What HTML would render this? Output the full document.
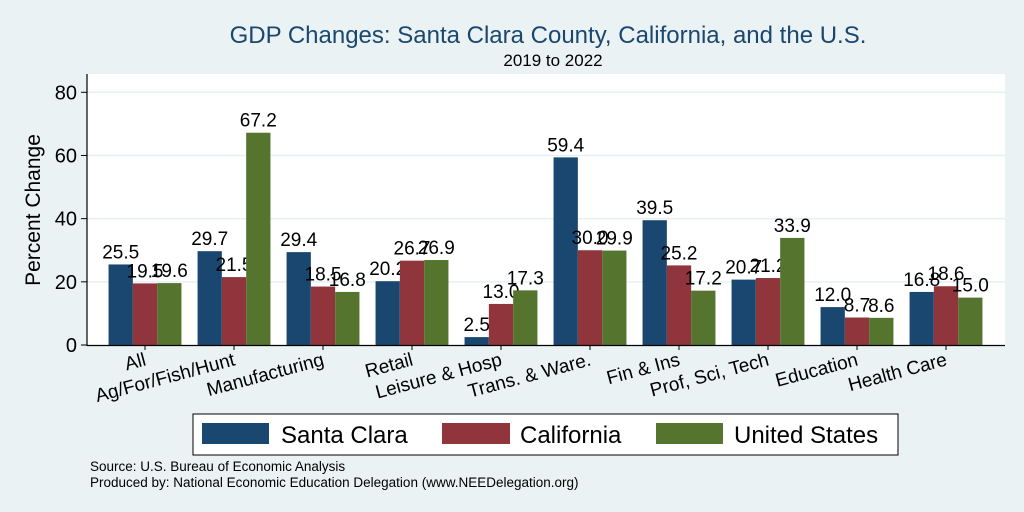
<!DOCTYPE html>
<html><head><meta charset="utf-8"><style>
body{margin:0;background:#eaf2f3;}
svg{display:block;font-family:"Liberation Sans",Arial,sans-serif;}
</style></head><body>
<svg id="c" width="1024" height="512" viewBox="0 0 1024 512">
<rect x="0" y="0" width="1024" height="512" fill="#eaf2f3"/>
<rect x="87" y="74" width="918" height="271" fill="#ffffff"/>
<text x="548" y="43" font-size="24" fill="#1a476f" text-anchor="middle">GDP Changes: Santa Clara County, California, and the U.S.</text>
<text x="553" y="66" font-size="17" fill="#000" text-anchor="middle">2019 to 2022</text>
<text transform="translate(40,210) rotate(-90)" font-size="21" text-anchor="middle">Percent Change</text>
<g id="grid"></g><g id="bars"></g><g id="xl"></g>
<line x1="87" y1="74" x2="87" y2="346" stroke="#000" stroke-width="1.2"/>
<line x1="87" y1="345.5" x2="1005" y2="345.5" stroke="#000" stroke-width="1.2"/>
<g>
<rect x="193" y="414" width="705" height="41" fill="#fff" stroke="#000" stroke-width="1"/>
<rect x="202" y="423" width="67" height="21" fill="#1a476f"/>
<text x="281" y="443" font-size="24">Santa Clara</text>
<rect x="442" y="423" width="68" height="21" fill="#90353b"/>
<text x="520" y="443" font-size="24">California</text>
<rect x="656" y="423" width="67" height="21" fill="#55752f"/>
<text x="734" y="443" font-size="24">United States</text>
</g>
<text x="90" y="471" font-size="13.5">Source: U.S. Bureau of Economic Analysis</text>
<text x="90" y="487" font-size="13.5">Produced by: National Economic Education Delegation (www.NEEDelegation.org)</text>
</svg>
<script>
const categories=["All","Ag/For/Fish/Hunt","Manufacturing","Retail","Leisure & Hosp","Trans. & Ware.","Fin & Ins","Prof, Sci, Tech","Education","Health Care"];
const santaClara=[25.5,29.7,29.4,20.2,2.5,59.4,39.5,20.7,12.0,16.8];
const california=[19.5,21.5,18.5,26.7,13.0,30.0,25.2,21.2,8.7,18.6];
const unitedStates=[19.6,67.2,16.8,26.9,17.3,29.9,17.2,33.9,8.6,15.0];
const yTicks=[0,20,40,60,80];
const NS="http://www.w3.org/2000/svg";
function y(v){return 345-v*(345-92.3)/80;}
function xc(i){return 145+i*89;}
function mk(t,a,p){const e=document.createElementNS(NS,t);for(const k in a)e.setAttribute(k,a[k]);p.appendChild(e);return e;}
const grid=document.getElementById('grid'),bars=document.getElementById('bars'),xl=document.getElementById('xl');
yTicks.forEach(t=>{
 if(t>0){const g=mk('line',{x1:87,x2:1005,y1:y(t),y2:y(t),stroke:'#e8eff2','stroke-width':1.5},grid);
 
 }
 const tk=mk('line',{x1:81,x2:87,y1:y(t),y2:y(t),stroke:'#000'},grid);
 
 
 const l=mk('text',{x:77,y:y(t)+7,'font-size':20,'text-anchor':'end'},grid);l.textContent=t;
 
 
});
const series=[[santaClara,'#1a476f','santa-clara'],[california,'#90353b','california'],[unitedStates,'#55752f','united-states']];
const bw=24.3;
categories.forEach((c,i)=>{
 series.forEach((s,j)=>{
  const v=s[0][i];const x0=xc(i)-1.5*bw+j*bw;
  const r=mk('rect',{x:x0,y:y(v),width:bw,height:345-y(v),fill:s[1]},bars);
  
  
  const t=mk('text',{x:x0+bw/2,y:y(v)-6,'font-size':19,'text-anchor':'middle'},bars);t.textContent=v.toFixed(1);
  
  
 });
 const tk=mk('line',{x1:xc(i),x2:xc(i),y1:345,y2:350,stroke:'#000'},xl);
 
 
 const l=mk('text',{transform:`translate(${xc(i)+2},365) rotate(-15)`,'font-size':19,'text-anchor':'end'},xl);l.textContent=c;
 
 
});
</script>
</body></html>
